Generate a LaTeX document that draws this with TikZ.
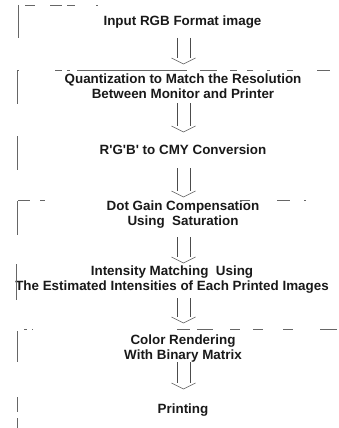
\documentclass[tikz,border=0pt]{standalone}
\usepackage{fontspec}
\setmainfont{Liberation Sans}
\begin{document}
\begin{tikzpicture}[x=1pt,y=-1pt,
  lbl/.style={font=\bfseries\fontsize{13.4}{15}\selectfont, align=center, inner sep=0pt, text=black!90},
  edge/.style={draw=black!60, line width=0.7pt},
  shaft/.style={draw=black!70, line width=0.8pt},
  vhead/.style={draw=black!65, line width=0.6pt}]
\useasboundingbox (0,0) rectangle (339,428);
% nodes
\node[lbl] (n1) at (182.5,22) {Input RGB Format image};
\node[lbl] (n2) at (183,86.5) {Quantization to Match the Resolution\\Between Monitor and Printer};
\node[lbl] (n3) at (183,150) {R\textquotesingle G\textquotesingle B\textquotesingle\ to CMY Conversion};
\node[lbl] (n4) at (183,215) {Dot Gain Compensation\\Using\ \ Saturation};
\node[lbl] (n5) at (172,279.5) {Intensity Matching\ \ Using\\The Estimated Intensities of Each Printed Images};
\node[lbl] (n6) at (183,349) {Color Rendering\\With Binary Matrix};
\node[lbl] (n7) at (183,410) {Printing};
% partial box outlines (faded)
\draw[edge] (18,5) -- (18,38);
\draw[edge] (25,5) -- (35,5) (50,5) -- (62,5) (67,5) -- (75,5) (96,5) -- (98,5);
\draw[edge] (17,71) -- (17,104);
\draw[edge] (17,70) -- (19,70) (55,70) -- (62,70) (67,70) -- (70,70) (77,70) -- (187,70) (200,70) -- (217,70)
  (230,70) -- (237,70) (247,70) -- (253,70) (267,70) -- (270,70) (287,70) -- (293,70) (317,70) -- (330,70);
\draw[edge] (17,136) -- (17,170);
\draw[edge] (17,201) -- (17,235);
\draw[edge] (18,200) -- (30,200) (40,200) -- (45,200) (240,200) -- (250,200) (277,200) -- (290,200) (304,200) -- (306,200);
\draw[edge] (16,264) -- (16,300);
\draw[edge] (17,331) -- (17,362);
\draw[edge] (24,329) -- (27,329) (32,329) -- (33,329) (177,329) -- (190,329) (197,329) -- (213,329)
  (230,329) -- (240,329) (253,329) -- (263,329) (283,329) -- (293,329) (320,329) -- (337,329);
\draw[edge] (17,397) -- (17,412) (17,418) -- (17,428);
% arrow anchor points (start below one step, tip above the next)
\coordinate (s1) at (183.5,38);  \coordinate (e1) at (183.5,64);
\coordinate (s2) at (183.5,103); \coordinate (e2) at (183.5,132);
\coordinate (s3) at (183.5,168); \coordinate (e3) at (183.5,197);
\coordinate (s4) at (183.5,237); \coordinate (e4) at (183.5,263);
\coordinate (s5) at (183.5,298); \coordinate (e5) at (183.5,323);
\coordinate (s6) at (183.5,362); \coordinate (e6) at (183.5,389);
\foreach \i in {1,...,6}{
  \draw[shaft] ([xshift=-6.5pt]s\i) -- ([xshift=-6.5pt,yshift=6pt]e\i);
  \draw[shaft] ([xshift=6.5pt]s\i) -- ([xshift=6.5pt,yshift=6pt]e\i);
  \draw[vhead] ([xshift=-12pt,yshift=6pt]e\i) -- (e\i) -- ([xshift=12pt,yshift=6pt]e\i);
}
\end{tikzpicture}
\end{document}
